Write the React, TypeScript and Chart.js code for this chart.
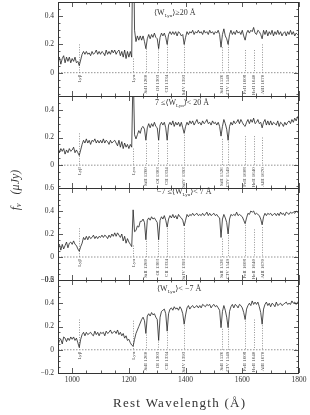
import React, { useEffect, useRef } from "react";
import { Chart, registerables } from "chart.js";

Chart.register(...registerables);

// Rest wavelength grid (Å)
const waves = [
  950, 955, 960, 965, 970, 975, 980, 985, 990, 995,
  1000, 1005, 1010, 1015, 1020, 1025, 1030, 1035, 1040, 1045,
  1050, 1055, 1060, 1065, 1070, 1075, 1080, 1085, 1090, 1095,
  1100, 1105, 1110, 1115, 1120, 1125, 1130, 1135, 1140, 1145,
  1150, 1155, 1160, 1165, 1170, 1175, 1180, 1185, 1190, 1195,
  1200, 1205, 1210, 1215, 1220, 1225, 1230, 1235, 1240, 1245,
  1250, 1255, 1260, 1265, 1270, 1275, 1280, 1285, 1290, 1295,
  1300, 1305, 1310, 1315, 1320, 1325, 1330, 1335, 1340, 1345,
  1350, 1355, 1360, 1365, 1370, 1375, 1380, 1385, 1390, 1395,
  1400, 1405, 1410, 1415, 1420, 1425, 1430, 1435, 1440, 1445,
  1450, 1455, 1460, 1465, 1470, 1475, 1480, 1485, 1490, 1495,
  1500, 1505, 1510, 1515, 1520, 1525, 1530, 1535, 1540, 1545,
  1550, 1555, 1560, 1565, 1570, 1575, 1580, 1585, 1590, 1595,
  1600, 1605, 1610, 1615, 1620, 1625, 1630, 1635, 1640, 1645,
  1650, 1655, 1660, 1665, 1670, 1675, 1680, 1685, 1690, 1695,
  1700, 1705, 1710, 1715, 1720, 1725, 1730, 1735, 1740, 1745,
  1750, 1755, 1760, 1765, 1770, 1775, 1780, 1785, 1790, 1795,
  1800,
];

// f_nu (μJy), <W_Lya> >= 20 Å
const fluxStrong = [
  0.09, 0.11, 0.06, 0.10, 0.12, 0.07, 0.11, 0.08, 0.11, 0.07,
  0.10, 0.08, 0.11, 0.07, 0.08, 0.05, 0.09, 0.13, 0.15, 0.13,
  0.15, 0.13, 0.14, 0.12, 0.15, 0.13, 0.14, 0.16, 0.13, 0.15,
  0.13, 0.15, 0.14, 0.12, 0.16, 0.13, 0.15, 0.13, 0.16, 0.14,
  0.16, 0.13, 0.15, 0.16, 0.12, 0.15, 0.11, 0.16, 0.10, 0.15,
  0.11, 0.15, 0.11, 1.20, 0.30, 0.22, 0.26, 0.23, 0.26, 0.23,
  0.26, 0.22, 0.17, 0.24, 0.27, 0.24, 0.27, 0.25, 0.28, 0.25,
  0.24, 0.17, 0.25, 0.28, 0.26, 0.28, 0.25, 0.20, 0.27, 0.29,
  0.27, 0.29, 0.27, 0.29, 0.26, 0.29, 0.28, 0.26, 0.27, 0.20,
  0.25, 0.29, 0.27, 0.29, 0.28, 0.30, 0.27, 0.29, 0.28, 0.30,
  0.28, 0.29, 0.27, 0.30, 0.28, 0.29, 0.27, 0.30, 0.28, 0.29,
  0.27, 0.29, 0.28, 0.30, 0.27, 0.18, 0.27, 0.31, 0.26, 0.24,
  0.20, 0.27, 0.30, 0.27, 0.29, 0.27, 0.30, 0.28, 0.29, 0.27,
  0.30, 0.26, 0.23, 0.28, 0.30, 0.28, 0.30, 0.29, 0.32, 0.28,
  0.27, 0.30, 0.29, 0.27, 0.24, 0.30, 0.27, 0.30, 0.26, 0.29,
  0.27, 0.30, 0.26, 0.29, 0.27, 0.30, 0.27, 0.29, 0.26, 0.28,
  0.29, 0.26, 0.29, 0.27, 0.30, 0.27, 0.29, 0.26, 0.28, 0.27,
  0.28,
];

// 7 <= <W_Lya> < 20 Å
const fluxMid = [
  0.13, 0.09, 0.12, 0.10, 0.12, 0.08, 0.11, 0.09, 0.12, 0.10,
  0.11, 0.13, 0.09, 0.11, 0.09, 0.07, 0.11, 0.15, 0.18, 0.16,
  0.19, 0.16, 0.18, 0.15, 0.18, 0.17, 0.19, 0.16, 0.18, 0.16,
  0.18, 0.16, 0.19, 0.16, 0.18, 0.17, 0.15, 0.18, 0.16, 0.17,
  0.18, 0.16, 0.14, 0.18, 0.13, 0.17, 0.12, 0.16, 0.13, 0.15,
  0.12, 0.15, 0.13, 0.70, 0.22, 0.19, 0.22, 0.25, 0.23, 0.27,
  0.28, 0.26, 0.18, 0.27, 0.30, 0.27, 0.30, 0.28, 0.31, 0.28,
  0.27, 0.18, 0.29, 0.31, 0.29, 0.31, 0.27, 0.18, 0.29, 0.31,
  0.29, 0.32, 0.28, 0.31, 0.29, 0.31, 0.28, 0.31, 0.27, 0.23,
  0.28, 0.31, 0.29, 0.32, 0.30, 0.32, 0.29, 0.31, 0.33, 0.30,
  0.31, 0.29, 0.32, 0.30, 0.31, 0.33, 0.30, 0.31, 0.29, 0.32,
  0.30, 0.31, 0.29, 0.31, 0.28, 0.21, 0.28, 0.33, 0.30, 0.26,
  0.18, 0.28, 0.31, 0.29, 0.32, 0.30, 0.31, 0.33, 0.30, 0.33,
  0.31, 0.29, 0.28, 0.31, 0.33, 0.30, 0.33, 0.31, 0.34, 0.30,
  0.31, 0.33, 0.30, 0.31, 0.27, 0.31, 0.33, 0.29, 0.32, 0.29,
  0.32, 0.29, 0.31, 0.30, 0.29, 0.32, 0.28, 0.31, 0.30, 0.28,
  0.31, 0.29, 0.31, 0.32, 0.30, 0.33, 0.31, 0.34, 0.32, 0.35,
  0.34,
];

// -7 <= <W_Lya> < 7 Å
const fluxWeak = [
  0.09, 0.11, 0.06, 0.11, 0.07, 0.10, 0.13, 0.08, 0.12, 0.13,
  0.11, 0.14, 0.11, 0.10, 0.07, 0.05, 0.09, 0.12, 0.17, 0.15,
  0.18, 0.15, 0.18, 0.16, 0.17, 0.19, 0.16, 0.18, 0.16, 0.18,
  0.17, 0.19, 0.17, 0.19, 0.18, 0.16, 0.19, 0.17, 0.20, 0.18,
  0.21, 0.18, 0.21, 0.19, 0.17, 0.20, 0.14, 0.18, 0.12, 0.16,
  0.13, 0.11, 0.09, 0.41, 0.22, 0.23, 0.27, 0.26, 0.31, 0.31,
  0.33, 0.30, 0.15, 0.32, 0.34, 0.32, 0.35, 0.33, 0.34, 0.32,
  0.30, 0.15, 0.32, 0.35, 0.33, 0.36, 0.32, 0.26, 0.33, 0.36,
  0.34, 0.37, 0.34, 0.36, 0.33, 0.37, 0.35, 0.34, 0.32, 0.27,
  0.32, 0.37, 0.35, 0.37, 0.36, 0.38, 0.36, 0.37, 0.38, 0.36,
  0.37, 0.36, 0.38, 0.36, 0.37, 0.39, 0.36, 0.38, 0.36, 0.37,
  0.38, 0.36, 0.37, 0.35, 0.34, 0.17, 0.33, 0.37, 0.34, 0.30,
  0.20, 0.33, 0.37, 0.36, 0.37, 0.36, 0.39, 0.36, 0.37, 0.36,
  0.35, 0.32, 0.29, 0.34, 0.38, 0.37, 0.40, 0.39, 0.40, 0.37,
  0.38, 0.37, 0.36, 0.33, 0.28, 0.35, 0.38, 0.36, 0.38, 0.37,
  0.38, 0.36, 0.37, 0.38, 0.36, 0.38, 0.36, 0.39, 0.37, 0.38,
  0.36, 0.39, 0.38, 0.37, 0.39, 0.38, 0.39, 0.38, 0.40, 0.39,
  0.39,
];

// <W_Lya> < -7 Å
const fluxAbs = [
  0.04, 0.08, 0.09, 0.05, 0.11, 0.10, 0.07, 0.10, 0.08, 0.11,
  0.09, 0.11, 0.08, 0.10, 0.06, 0.02, 0.09, 0.13, 0.15, 0.12,
  0.15, 0.13, 0.14, 0.15, 0.13, 0.12, 0.16, 0.13, 0.15, 0.12,
  0.15, 0.14, 0.15, 0.12, 0.16, 0.14, 0.15, 0.17, 0.14, 0.15,
  0.16, 0.14, 0.17, 0.13, 0.15, 0.12, 0.14, 0.10, 0.12, 0.08,
  0.09, 0.06, 0.04, 0.03, 0.09, 0.14, 0.17, 0.20, 0.23, 0.26,
  0.28, 0.25, 0.14, 0.29, 0.31, 0.29, 0.32, 0.30, 0.31, 0.28,
  0.26, 0.08, 0.28, 0.33, 0.34, 0.35, 0.31, 0.16, 0.31, 0.35,
  0.36, 0.34, 0.37, 0.35, 0.36, 0.34, 0.37, 0.35, 0.31, 0.22,
  0.30, 0.36, 0.38, 0.35, 0.37, 0.38, 0.36, 0.37, 0.38, 0.36,
  0.38, 0.36, 0.39, 0.38, 0.37, 0.39, 0.38, 0.39, 0.36, 0.38,
  0.39, 0.37, 0.38, 0.36, 0.34, 0.19, 0.33, 0.38, 0.34, 0.28,
  0.19, 0.33, 0.37, 0.39, 0.36, 0.39, 0.38, 0.36, 0.39, 0.38,
  0.36, 0.32, 0.26, 0.35, 0.38, 0.40, 0.38, 0.42, 0.39, 0.41,
  0.39, 0.41, 0.37, 0.32, 0.22, 0.35, 0.39, 0.41, 0.38, 0.40,
  0.37, 0.40, 0.39, 0.37, 0.41, 0.38, 0.39, 0.40, 0.38, 0.39,
  0.40, 0.41, 0.39, 0.40, 0.39, 0.42, 0.40, 0.41, 0.39, 0.41,
  0.40,
];

// Spectral features
const lineWaves = [1025.7, 1215.7, 1260.4, 1303.3, 1334.5, 1393.8, 1526.7, 1549.1, 1608.5, 1640.4, 1670.8];
const lineNames = ["Lyβ", "Lyα", "SiII 1260", "OI 1303", "CII 1334", "SiIV 1393", "SiII 1526", "CIV 1549", "FeII 1608", "HeII 1640", "AlII 1670"];

// top of each dotted marker (μJy) per panel
const markTopStrong = [0.2, 0.1, 0.17, 0.2, 0.2, 0.2, 0.18, 0.2, 0.16, 0.16, 0.2];
const markTopMid = [0.23, 0.12, 0.16, 0.16, 0.16, 0.22, 0.19, 0.17, 0.21, 0.21, 0.2];
const markTopWeak = [0.25, 0.1, 0.14, 0.14, 0.25, 0.25, 0.16, 0.19, 0.28, 0.24, 0.26];
const markTopAbs = [0.26, 0.25, 0.13, 0.07, 0.15, 0.21, 0.18, 0.18, 0.25, 0.26, 0.21];

// ticks
const xMajorTicks = [1000, 1200, 1400, 1600, 1800];
const xTickLabels = ["1000", "1200", "1400", "1600", "1800"];
const yLabelsStrong = [0, 0.2, 0.4];
const yLabelsMid = [0, 0.2, 0.4];
const yLabelsWeak = [-0.2, 0, 0.2, 0.4, 0.6];
const yLabelsAbs = [-0.2, 0, 0.2, 0.4, 0.6];

const X_MIN = 950;
const X_MAX = 1800;
const W = 310;
const H = 415;
const LEFT = 58;
const RIGHT = 299;

type Seg = [string, number];
interface Panel {
  flux: number[];
  tops: number[];
  yMin: number;
  yMax: number;
  top: number;
  bottom: number;
  yLabels: number[];
  title: Seg[];
  titleX: number;
  titleY: number;
}

const panels: Panel[] = [
  { flux: fluxStrong, tops: markTopStrong, yMin: -0.165, yMax: 0.5, top: 2, bottom: 96, yLabels: yLabelsStrong,
    title: [["⟨W", 0], ["Lyα", 1], ["⟩≥20 Å", 0]], titleX: 154, titleY: 15 },
  { flux: fluxMid, tops: markTopMid, yMin: -0.165, yMax: 0.5, top: 96, bottom: 188, yLabels: yLabelsMid,
    title: [["7 ≤⟨W", 0], ["Lyα", 1], ["⟩< 20 Å", 0]], titleX: 155, titleY: 105 },
  { flux: fluxWeak, tops: markTopWeak, yMin: -0.2, yMax: 0.6, top: 188, bottom: 280, yLabels: yLabelsWeak,
    title: [["−7 ≤⟨W", 0], ["Lyα", 1], ["⟩< 7 Å", 0]], titleX: 157, titleY: 194 },
  { flux: fluxAbs, tops: markTopAbs, yMin: -0.2, yMax: 0.6, top: 280, bottom: 373, yLabels: yLabelsAbs,
    title: [["⟨W", 0], ["Lyα", 1], ["⟩< −7 Å", 0]], titleX: 157, titleY: 291 },
];

const INK = "#333";
const SERIF = '"Liberation Serif", "DejaVu Serif", serif';

function fmt(v: number): string {
  if (Math.abs(v) < 1e-9) return "0";
  const s = Math.abs(v).toFixed(1);
  return (v < 0 ? "−" : "") + s;
}

function drawSegs(ctx: CanvasRenderingContext2D, segs: Seg[], x: number, y: number, size: number) {
  let cx = x;
  ctx.textAlign = "left";
  ctx.textBaseline = "alphabetic";
  for (const [t, sub] of segs) {
    ctx.font = `${sub ? size * 0.6 : size}px ${SERIF}`;
    ctx.fillText(t, cx, sub ? y + size * 0.3 : y);
    cx += ctx.measureText(t).width;
  }
}

function makePlugin(p: Panel, idx: number) {
  return {
    id: "decor" + idx,
    beforeDatasetsDraw(chart: any) {
      const { ctx, chartArea: a, scales } = chart;
      const xs = scales.x;
      const ys = scales.y;
      const y0 = ys.getPixelForValue(0);
      ctx.save();
      ctx.strokeStyle = "#666";
      ctx.lineWidth = 0.7;
      ctx.setLineDash([1.5, 1.5]);
      ctx.beginPath();
      ctx.moveTo(a.left, y0);
      ctx.lineTo(a.right, y0);
      ctx.stroke();
      ctx.setLineDash([1, 1.5]);
      lineWaves.forEach((lw, j) => {
        const x = Math.round(xs.getPixelForValue(lw)) + 0.5;
        ctx.beginPath();
        ctx.moveTo(x, ys.getPixelForValue(p.tops[j]));
        ctx.lineTo(x, y0);
        ctx.stroke();
      });
      ctx.setLineDash([]);
      ctx.fillStyle = "#444";
      ctx.font = `5px ${SERIF}`;
      lineWaves.forEach((lw, j) => {
        const x = xs.getPixelForValue(lw);
        ctx.save();
        ctx.translate(x, y0 + 2);
        ctx.rotate(-Math.PI / 2);
        ctx.textAlign = "right";
        ctx.textBaseline = "middle";
        ctx.fillText(lineNames[j], 0, 0);
        ctx.restore();
      });
      ctx.restore();
    },
    afterDatasetsDraw(chart: any) {
      const { ctx, chartArea: a, scales } = chart;
      const xs = scales.x;
      const ys = scales.y;
      ctx.save();
      ctx.strokeStyle = INK;
      ctx.lineWidth = 1;
      ctx.strokeRect(a.left + 0.5, a.top + 0.5, a.right - a.left - 1, a.bottom - a.top);
      ctx.lineWidth = 0.8;
      ctx.beginPath();
      for (let w = X_MIN; w <= X_MAX; w += 50) {
        const major = xMajorTicks.includes(w);
        const len = major ? 5 : 2.5;
        const x = Math.round(xs.getPixelForValue(w)) + 0.5;
        ctx.moveTo(x, a.bottom);
        ctx.lineTo(x, a.bottom - len);
        ctx.moveTo(x, a.top);
        ctx.lineTo(x, a.top + len);
      }
      const start = Math.ceil(p.yMin / 0.05 - 1e-6);
      const end = Math.floor(p.yMax / 0.05 + 1e-6);
      for (let k = start; k <= end; k++) {
        const v = k * 0.05;
        const major = k % 4 === 0;
        const len = major ? 5 : 2.5;
        const y = Math.round(ys.getPixelForValue(v)) + 0.5;
        ctx.moveTo(a.left, y);
        ctx.lineTo(a.left + len, y);
        ctx.moveTo(a.right, y);
        ctx.lineTo(a.right - len, y);
      }
      ctx.stroke();

      ctx.fillStyle = INK;
      ctx.font = `7.5px ${SERIF}`;
      ctx.textAlign = "right";
      ctx.textBaseline = "middle";
      p.yLabels.forEach((v) => {
        ctx.fillText(fmt(v), a.left - 4, ys.getPixelForValue(v));
      });

      drawSegs(ctx, p.title, p.titleX, p.titleY, 8);

      if (idx === panels.length - 1) {
        ctx.font = `7.5px ${SERIF}`;
        ctx.textAlign = "center";
        ctx.textBaseline = "middle";
        xMajorTicks.forEach((w, j) => {
          ctx.fillText(xTickLabels[j], xs.getPixelForValue(w), a.bottom + 7);
        });
        const title = "Rest Wavelength (Å)";
        ctx.font = `13px ${SERIF}`;
        const natural = ctx.measureText(title).width;
        const target = 132;
        (ctx as any).letterSpacing = `${(target - natural) / (title.length - 1)}px`;
        ctx.textAlign = "left";
        ctx.fillText(title, 179 - target / 2, 404);
        (ctx as any).letterSpacing = "0px";
      }
      if (idx === 1) {
        ctx.save();
        ctx.translate(16, 190);
        ctx.rotate(-Math.PI / 2);
        const segs: Seg[] = [["f", 0], ["ν", 1], ["   (μJy)", 0]];
        let total = 0;
        for (const [t, sub] of segs) {
          ctx.font = `italic ${sub ? 8 : 12}px ${SERIF}`;
          total += ctx.measureText(t).width;
        }
        let cx = -total / 2;
        ctx.textAlign = "left";
        ctx.textBaseline = "middle";
        for (const [t, sub] of segs) {
          ctx.font = `italic ${sub ? 8 : 12}px ${SERIF}`;
          ctx.fillText(t, cx, sub ? 3 : 0);
          cx += ctx.measureText(t).width;
        }
        ctx.restore();
      }
      ctx.restore();
    },
  };
}

export default function App() {
  const canvases = useRef<(HTMLCanvasElement | null)[]>([]);

  useEffect(() => {
    const charts = panels.map((p, i) => {
      const canvas = canvases.current[i]!;
      return new Chart(canvas, {
        type: "line",
        data: {
          datasets: [
            {
              data: waves.map((w, k) => ({ x: w, y: p.flux[k] })),
              borderColor: "#222",
              borderWidth: 0.8,
              pointRadius: 0,
              tension: 0,
              fill: false,
            },
          ],
        },
        options: {
          responsive: false,
          animation: false,
          devicePixelRatio: 1,
          events: [],
          layout: { padding: { left: LEFT, right: W - RIGHT, top: p.top, bottom: H - p.bottom } },
          plugins: { legend: { display: false }, tooltip: { enabled: false } },
          scales: {
            x: { type: "linear", min: X_MIN, max: X_MAX, display: false },
            y: { type: "linear", min: p.yMin, max: p.yMax, display: false },
          },
        },
        plugins: [makePlugin(p, i)],
      } as any);
    });
    return () => charts.forEach((c) => c.destroy());
  }, []);

  return (
    <div style={{ position: "fixed", left: 0, top: 0, width: W, height: H, background: "#fff" }}>
      {panels.map((_, i) => (
        <canvas
          key={i}
          ref={(el) => {
            canvases.current[i] = el;
          }}
          width={W}
          height={H}
          style={{ position: "absolute", left: 0, top: 0, width: W, height: H }}
        />
      ))}
    </div>
  );
}
